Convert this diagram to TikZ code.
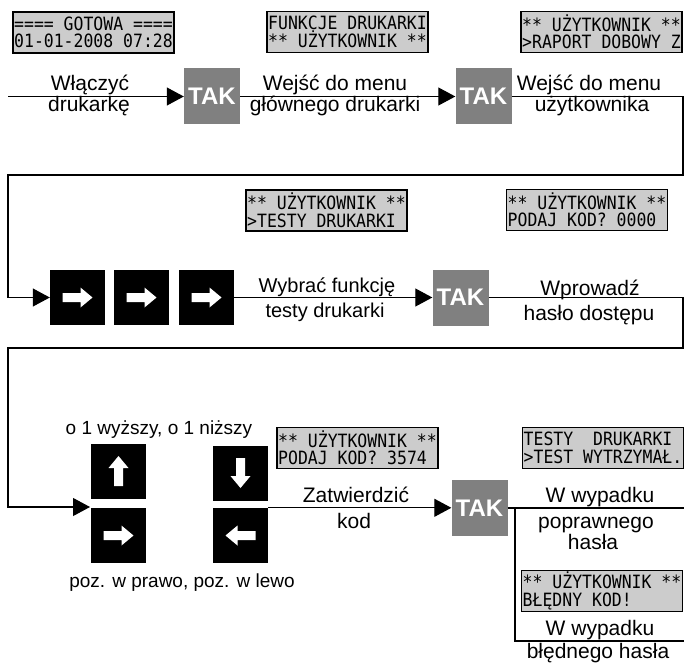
\documentclass[tikz,border=0pt]{standalone}
\usepackage{fontspec}
\setmainfont{Liberation Sans}
\newfontfamily\lcdfont[FakeStretch=0.9]{DejaVu Sans Mono}
\usetikzlibrary{arrows.meta}

\tikzset{
  lcd/.style={draw, line width=1.2pt, fill=black!20, inner xsep=1pt, inner ysep=0pt,
    minimum width=161pt, minimum height=41pt, align=left,
    font=\lcdfont\fontsize{18.3}{17.5}\selectfont},
  tak/.style={fill=black!50, text=white, inner sep=0pt, minimum size=56pt,
    font=\bfseries\fontsize{24}{24}\selectfont},
  keybox/.style={fill=black, inner sep=0pt, minimum size=55pt},
  lbl/.style={anchor=base, inner sep=0pt, font=\fontsize{21}{21}\selectfont},
  small lbl/.style={lbl, font=\fontsize{19}{19}\selectfont},
  wire/.style={line width=1.1pt},
  flow/.style={wire, -{Triangle[length=17pt,width=18pt]}},
  keyarrow/.pic={\fill[white] (-15,-4.5) -- (3,-4.5) -- (3,-10) -- (15,0)
    -- (3,10) -- (3,4.5) -- (-15,4.5) -- cycle;}
}

\begin{document}
\begin{tikzpicture}[x=1pt, y=-1pt]
\useasboundingbox (0,0) rectangle (684,663);

% displays
\node[lcd] (d1) at (93.5,32.5) {==== GOTOWA ====\\01-01-2008 07:28};
\node[lcd] (d2) at (347.5,32) {FUNKCJE DRUKARKI\\{}** UŻYTKOWNIK **};
\node[lcd] (d3) at (601.5,32) {** UŻYTKOWNIK **\\>RAPORT DOBOWY Z};
\node[lcd] (d4) at (326.5,210.5) {** UŻYTKOWNIK **\\>TESTY DRUKARKI};
\node[lcd] (d5) at (587,210) {** UŻYTKOWNIK **\\PODAJ KOD? 0000};
\node[lcd] (d6) at (357.5,448) {** UŻYTKOWNIK **\\PODAJ KOD? 3574};
\node[lcd] (d7) at (603,448) {TESTY~~DRUKARKI\\>TEST WYTRZYMAŁ.};
\node[lcd] (d8) at (602,591) {** UŻYTKOWNIK **\\BŁĘDNY KOD!};

% row 1
\coordinate (in) at (8,96.5);
\node[tak] (tak1) at (212,96.5) {TAK};
\node[tak] (tak2) at (483.5,96.5) {TAK};
\node[lbl] (t1a) at (90,91) {Włączyć};
\node[lbl] (t1b) at (89,112) {drukarkę};
\node[lbl] (t2a) at (335,91) {Wejść do menu};
\node[lbl] (t2b) at (335,112) {głównego drukarki};
\node[lbl] (t3a) at (589,91) {Wejść do menu};
\node[lbl] (t3b) at (592,112) {użytkownika};
\coordinate (c1) at (683,96.5);
\coordinate (c2) at (683,175);
\coordinate (c3) at (8,175);

% row 2
\node[keybox] (k1) at (77.5,297.5) {};
\node[keybox] (k2) at (141.5,297.5) {};
\node[keybox] (k3) at (206.5,297.5) {};
\node[tak] (tak3) at (460.5,297.5) {TAK};
\node[lbl, font=\fontsize{20}{20}\selectfont] (t4a) at (327,292) {Wybrać funkcję};
\node[lbl, font=\fontsize{20}{20}\selectfont] (t4b) at (325,317) {testy drukarki};
\node[lbl] (t5a) at (590,295) {Wprowadź};
\node[lbl] (t5b) at (589,320) {hasło dostępu};
\foreach \k in {k1,k2,k3}
  \pic at (\k) {keyarrow};
\coordinate (c4) at (683,297.5);
\coordinate (c5) at (683,348);
\coordinate (c6) at (8,348);
\coordinate (entry) at (90,507);

\draw[flow] (in) -- (tak1);
\draw[flow] (tak1) -- (tak2);
\draw[flow] (tak2) -- (c1) -- (c2) -- (c3) |- (k1);
\draw[flow] (k3) -- (tak3);
\draw[flow] (tak3) -- (c4) -- (c5) -- (c6) |- (entry);

% row 3
\node[keybox] (kup) at (118.5,471) {};
\node[keybox] (kright) at (118.5,535.5) {};
\node[keybox] (kdown) at (240.5,473) {};
\node[keybox] (kleft) at (240.5,535.5) {};
\pic[rotate=90] at (kup) {keyarrow};
\pic at (kright) {keyarrow};
\pic[rotate=-90] at (kdown) {keyarrow};
\pic[rotate=180] at (kleft) {keyarrow};
\node[small lbl] (t6) at (159,434) {o 1 wyższy, o 1 niższy};
\node[small lbl] (t7) at (182,587) {poz. w prawo, poz. w lewo};
\node[tak] (tak4) at (479.5,508) {TAK};
\node[lbl] (t8a) at (356,502) {Zatwierdzić};
\node[lbl] (t8b) at (354,528) {kod};
\node[lbl] (t9a) at (600,502) {W wypadku};
\node[lbl] (t9b) at (596,528) {poprawnego};
\node[lbl] (t9c) at (593,549) {hasła};
\node[lbl] (t10a) at (600,635) {W wypadku};
\node[lbl] (t10b) at (598,658) {błędnego hasła};
\coordinate (okend) at (684,508);
\coordinate (split) at (515,508);
\coordinate (badend) at (684,641);

\draw[flow] (kleft.north east) -- (kleft.north east -| tak4.west);
\draw[wire] (tak4) -- (okend);
\draw[wire] (split) |- (badend);
\end{tikzpicture}
\end{document}
